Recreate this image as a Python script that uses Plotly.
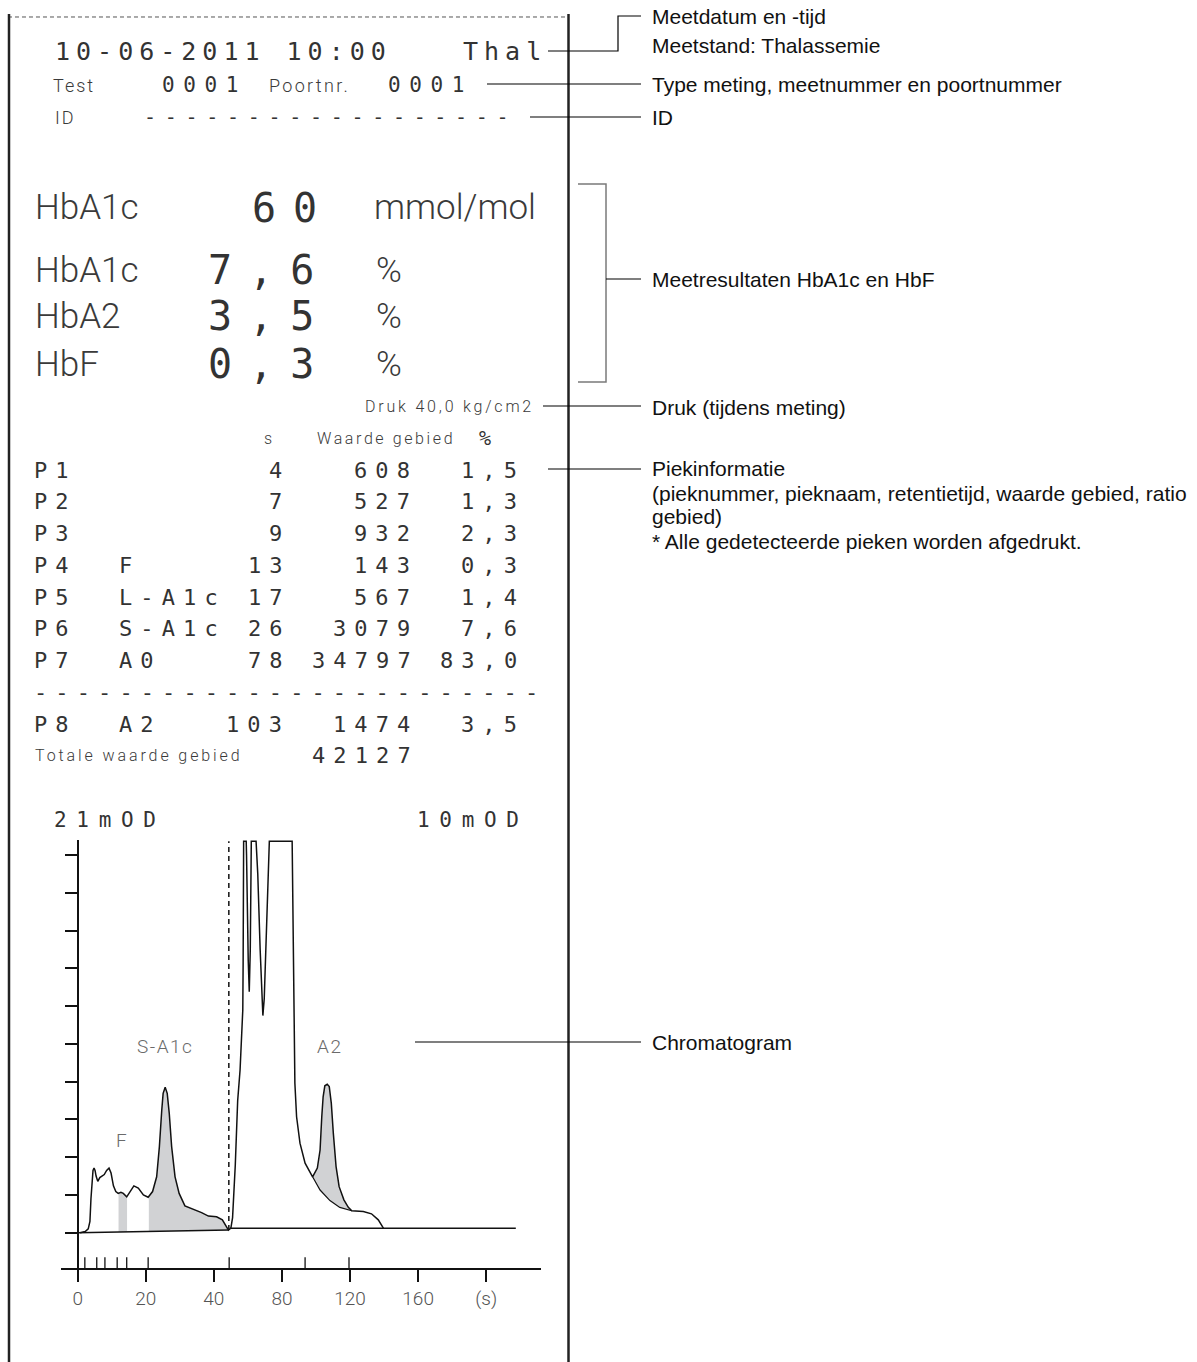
import numpy as np
import plotly.graph_objects as go

W, H = 1197, 1362

# ---------------- printout data ----------------
date_time = "10-06-2011 10:00"
mode_code = "Thal"
test_label, test_no = "Test", "0001"
port_label, port_no = "Poortnr.", "0001"
id_label = "ID"
id_value = "-" * 18

result_names = ["HbA1c", "HbA1c", "HbA2", "HbF"]
result_values = ["60", "7,6", "3,5", "0,3"]
result_units = ["mmol/mol", "%", "%", "%"]
pressure_text = "Druk 40,0 kg/cm2"

header_s = "s"
header_area = "Waarde gebied"
header_pct = "%"
peak_ids = ["P1", "P2", "P3", "P4", "P5", "P6", "P7", "P8"]
peak_names = ["", "", "", "F", "L-A1c", "S-A1c", "A0", "A2"]
ret_times = [4, 7, 9, 13, 17, 26, 78, 103]
areas = [608, 527, 932, 143, 567, 3079, 34797, 1474]
ratios = ["1,5", "1,3", "2,3", "0,3", "1,4", "7,6", "83,0", "3,5"]
peak_rows = [0, 1, 2, 3, 4, 5, 6, 8]
separator = "-" * 24
total_label = "Totale waarde gebied"
total_area = "42127"

scale_left = "21mOD"
scale_right = "10mOD"

# ---------------- chromatogram data (printed-axis units) ----------------
x_tick_vals = [0, 20, 40, 60, 80, 100, 120]
x_tick_text = ["0", "20", "40", "80", "120", "160", "(s)"]
y_tick_vals = list(range(11))

curve_x = [0.7, 2.2, 3.1, 3.6, 3.9, 4.2, 4.5, 4.8, 5.1, 5.4, 5.9, 6.5, 7.2, 7.8, 8.5,
           9.2, 9.8, 10.5, 11.2, 11.9, 12.7, 13.4, 14.4, 15.4, 16.5, 17.8, 19.3, 20.7,
           22.0, 23.2, 24.0, 24.7, 25.1, 25.7, 26.3, 26.9, 27.6, 28.6, 29.8, 31.5, 34.0,
           36.4, 38.4, 40.8, 42.5, 43.8, 44.3,
           45.0, 45.5, 46.3, 47.0, 47.7, 48.2, 48.5, 48.6, 48.75, 49.5,
           49.6, 50.1, 50.4, 50.7, 51.0, 52.4,
           52.9, 53.6, 54.1, 54.4, 54.8, 55.4, 56.3, 63.0,
           63.3, 63.6, 63.8, 64.3, 65.3, 66.8, 69.0,
           70.4, 71.2, 71.7, 72.1, 72.6, 73.3, 73.9, 74.5, 75.1, 75.9, 76.8, 78.2, 79.5,
           80.5, 83.9, 86.3, 88.3, 89.5, 89.8]
curve_y = [0.00, 0.03, 0.10, 0.30, 0.90, 1.40, 1.65, 1.71, 1.65, 1.50, 1.36, 1.46, 1.51, 1.54, 1.65,
           1.71, 1.58, 1.24, 1.09, 1.04, 1.07, 1.04, 0.95, 1.09, 1.24, 1.18, 1.00, 0.94,
           1.09, 1.48, 2.28, 3.25, 3.69, 3.85, 3.69, 3.16, 2.28, 1.48, 1.04, 0.71, 0.62,
           0.53, 0.44, 0.42, 0.34, 0.12, 0.07,
           0.12, 0.40, 1.80, 3.50, 4.31, 5.30, 5.90, 7.14, 10.37, 10.37,
           10.00, 7.20, 6.38, 7.50, 10.37, 10.37,
           9.50, 7.50, 6.00, 5.75, 6.20, 8.00, 10.37, 10.37,
           8.00, 5.20, 3.96, 3.07, 2.37, 1.84, 1.48,
           1.71, 2.19, 3.07, 3.60, 3.89, 3.93, 3.87, 3.43, 2.63, 1.75, 1.22, 0.87, 0.67,
           0.58, 0.56, 0.50, 0.34, 0.18, 0.12]
a0_tail_x = [69.0, 71.2, 74.1, 77.0, 80.5]
a0_tail_y = [1.48, 1.13, 0.85, 0.67, 0.58]
base_left_x = [0.0, 44.3]
base_left_y = [0.0, 0.07]
base_right_x = [44.7, 128.7]
base_right_y = [0.12, 0.12]
split_x = 44.4
peak_marks_x = [2.1, 5.6, 8.0, 11.6, 14.4, 20.7, 44.5, 66.8, 79.7]
shade_f = (12.0, 14.5)
shade_sa1c = (20.9, 44.3)
shade_a2 = (69.0, 80.5)
peak_label_text = ["F", "S-A1c", "A2"]
peak_label_x = [13.0, 25.7, 74.1]
peak_label_y = [2.45, 4.92, 4.92]

X_RANGE = [-4.99, 136.1]
Y_RANGE = [-0.943, 10.40]

# ---------------- callouts ----------------
callout_texts = ["Meetdatum en -tijd", "Meetstand: Thalassemie",
                 "Type meting, meetnummer en poortnummer", "ID",
                 "Meetresultaten HbA1c en HbF", "Druk (tijdens meting)",
                 "Piekinformatie",
                 "(pieknummer, pieknaam, retentietijd, waarde gebied, ratio",
                 "gebied)", "* Alle gedetecteerde pieken worden afgedrukt.",
                 "Chromatogram"]
callout_y = [17, 45, 84, 117, 279, 407, 468, 493, 517, 541, 1042]

# ---------------- helpers ----------------
WIDE = "DejaVu Sans Mono"
NARROW = "Roboto"
LABEL = "Liberation Sans, Arial, sans-serif"
C_WIDE = "#333333"
C_NARROW = "#3a3a3a"


def pxx(x):
    return x / W


def pyy(y):
    return 1 - y / H


annotations = []


def txt(x, y, s, size, family, color, ls=0.0, xanchor="left", weight=None):
    if ls:
        s = f'<span style="letter-spacing:{ls}px">{s}</span>'
    font = dict(size=size, family=family, color=color)
    if weight:
        font["weight"] = weight
    annotations.append(dict(x=pxx(x), y=pyy(y), xref="paper", yref="paper", text=s,
                            showarrow=False, xanchor=xanchor, yanchor="middle",
                            borderpad=0, font=font))


def ntxt(x, y, s, size, ls=0.0):
    txt(x, y, s, size, NARROW, C_NARROW, ls, weight=300)


shapes = []


def seg(points, color="#000", width=1.2, dash=None):
    path = "M " + " L ".join(f"{pxx(x):.5f},{pyy(y):.5f}" for x, y in points)
    line = dict(color=color, width=width)
    if dash:
        line["dash"] = dash
    shapes.append(dict(type="path", xref="paper", yref="paper", path=path, line=line))


# ---------------- header ----------------
DATE_SIZE, DATE_LS = 25, 6.0
txt(53.5, 52, date_time, DATE_SIZE, WIDE, C_WIDE, DATE_LS)
txt(461.6, 52, mode_code, DATE_SIZE, WIDE, C_WIDE, DATE_LS)
ntxt(51.7, 85, test_label, 18, 2.0)
txt(161, 85, test_no, 21, WIDE, C_WIDE, 8.6)
ntxt(268, 85, port_label, 18, 2.3)
txt(386.5, 85, port_no, 21, WIDE, C_WIDE, 8.6)
ntxt(53.6, 117, id_label, 18, 2.0)
txt(142.6, 117, id_value, 20, WIDE, C_WIDE, 8.7)

# ---------------- results ----------------
res_y = [207.5, 270, 316, 364]
res_val_x = [250.5, 206.5, 206.5, 206.5]
res_unit_x = [373, 375, 375, 375]
for yv, name, val, vx, unit, ux in zip(res_y, result_names, result_values, res_val_x,
                                        result_units, res_unit_x):
    ntxt(34.4, yv, name, 35, 0.0)
    txt(vx, yv, val, 40, WIDE, C_WIDE, 17.0)
    ntxt(ux, yv, unit, 35, 0.0)
ntxt(363.6, 406, pressure_text, 16, 2.8)

# ---------------- peak table ----------------
X0, PITCH, ROW0, ROWSTEP = 33.0, 21.35, 470, 31.75
T_SIZE, T_LS = 22, 8.1


def col_x(c):
    return X0 + c * PITCH


def row_y(r):
    return ROW0 + r * ROWSTEP


ntxt(262.5, row_y(-1), header_s, 16, 2.6)
ntxt(316, row_y(-1), header_area, 16, 2.6)
txt(478, row_y(-1), header_pct, 20, WIDE, C_WIDE)

for r, pid, nm, t, a, rt in zip(peak_rows, peak_ids, peak_names, ret_times, areas, ratios):
    yv = row_y(r)
    txt(col_x(0), yv, pid, T_SIZE, WIDE, C_WIDE, T_LS)
    if nm:
        txt(col_x(4), yv, nm, T_SIZE, WIDE, C_WIDE, T_LS)
    for s, end_col in ((str(t), 11), (str(a), 17), (rt, 22)):
        txt(col_x(end_col - len(s) + 1), yv, s, T_SIZE, WIDE, C_WIDE, T_LS)
txt(col_x(0), row_y(7), separator, T_SIZE, WIDE, C_WIDE, T_LS)
ntxt(34, row_y(9), total_label, 16, 2.9)
txt(col_x(17 - len(total_area) + 1), row_y(9), total_area, T_SIZE, WIDE, C_WIDE, T_LS)

txt(53, 820, scale_left, 21, WIDE, C_WIDE, 9.7)
txt(416, 820, scale_right, 21, WIDE, C_WIDE, 9.7)

# ---------------- callouts ----------------
for t, yv in zip(callout_texts, callout_y):
    txt(651, yv, t, 21, LABEL, "#111")

# page border
seg([(8, 17), (566, 17)], color="#555", width=1, dash="4px,3px")
seg([(9, 14), (9, H)], color="#222", width=2.5)
seg([(568.5, 14), (568.5, H)], color="#222", width=2.5)
# connectors
seg([(548, 51), (618, 51), (618, 16), (641, 16)])
seg([(487, 84), (641, 84)])
seg([(530, 117), (641, 117)])
seg([(578, 184), (606, 184), (606, 382), (578, 382)], color="#7a7a7a", width=1.5)
seg([(606, 279), (641, 279)])
seg([(543, 406), (641, 406)])
seg([(548, 469), (641, 469)])
seg([(415, 1042), (641, 1042)])

# ---------------- chromatogram ----------------
cx = np.array(curve_x)
cy = np.array(curve_y)


def region(lo, hi, lower_x, lower_y):
    inside = (cx > lo) & (cx < hi)
    xs = np.concatenate([[lo], cx[inside], [hi]])
    ys = np.concatenate([[np.interp(lo, cx, cy)], cy[inside], [np.interp(hi, cx, cy)]])
    bx = xs[::-1]
    by = np.interp(bx, lower_x, lower_y)
    return np.concatenate([xs, bx]), np.concatenate([ys, by])


FILL = "#d1d2d4"
fig = go.Figure()
for lo, hi, lx, ly in ((shade_f[0], shade_f[1], base_left_x, base_left_y),
                       (shade_sa1c[0], shade_sa1c[1], base_left_x, base_left_y),
                       (shade_a2[0], shade_a2[1], a0_tail_x, a0_tail_y)):
    rx, ry = region(lo, hi, lx, ly)
    fig.add_trace(go.Scatter(x=rx, y=ry, fill="toself", fillcolor=FILL, mode="lines",
                             line=dict(width=0), hoverinfo="skip", showlegend=False))

LINE = dict(color="#111", width=1.5)
fig.add_trace(go.Scatter(x=base_left_x, y=base_left_y, mode="lines", line=LINE, showlegend=False))
fig.add_trace(go.Scatter(x=base_right_x, y=base_right_y, mode="lines", line=LINE, showlegend=False))
fig.add_trace(go.Scatter(x=curve_x, y=curve_y, mode="lines", line=LINE, showlegend=False))
fig.add_trace(go.Scatter(x=a0_tail_x, y=a0_tail_y, mode="lines", line=dict(color="#111", width=1.2),
                         showlegend=False))
fig.add_trace(go.Scatter(x=[split_x, split_x], y=[base_left_y[-1], max(curve_y)], mode="lines",
                         line=dict(color="#111", width=1.5, dash="5px,4px"), showlegend=False))
mk_x, mk_y = [], []
tick_h = 11 / ((1268.3 - 840) / (Y_RANGE[1] - Y_RANGE[0]))
for m in peak_marks_x:
    mk_x += [m, m, None]
    mk_y += [Y_RANGE[0], Y_RANGE[0] + tick_h, None]
fig.add_trace(go.Scatter(x=mk_x, y=mk_y, mode="lines", line=dict(color="#111", width=1.3),
                         showlegend=False))

for t, xv, yv in zip(peak_label_text, peak_label_x, peak_label_y):
    annotations.append(dict(x=xv, y=yv, xref="x", yref="y",
                            text=f'<span style="letter-spacing:1.5px">{t}</span>',
                            showarrow=False, xanchor="center", yanchor="middle",
                            font=dict(size=19, family=NARROW, color="#6a6a6a", weight=300)))

fig.update_layout(
    width=W, height=H, margin=dict(l=0, r=0, t=0, b=0),
    paper_bgcolor="white", plot_bgcolor="rgba(0,0,0,0)",
    showlegend=False,
    xaxis=dict(domain=[60.7 / W, 541 / W], range=X_RANGE, anchor="y",
               showline=True, linecolor="#111", linewidth=1.5,
               ticks="outside", ticklen=12, tickwidth=1.5, tickcolor="#111",
               tickvals=x_tick_vals, ticktext=x_tick_text,
               tickfont=dict(size=19, family=NARROW, color="#555", weight=300),
               showgrid=False, zeroline=False, fixedrange=True),
    yaxis=dict(domain=[1 - 1268.3 / H, 1 - 840 / H], range=Y_RANGE, anchor="free",
               position=77.7 / W, showline=True, linecolor="#111", linewidth=1.5,
               ticks="outside", ticklen=12, tickwidth=1.5, tickcolor="#111",
               tickvals=y_tick_vals, showticklabels=False,
               showgrid=False, zeroline=False, fixedrange=True),
    annotations=annotations, shapes=shapes,
)

fig.write_html("out.html", config={"displayModeBar": False},
               post_script="document.body.style.margin='0';document.body.style.overflow='hidden';")
